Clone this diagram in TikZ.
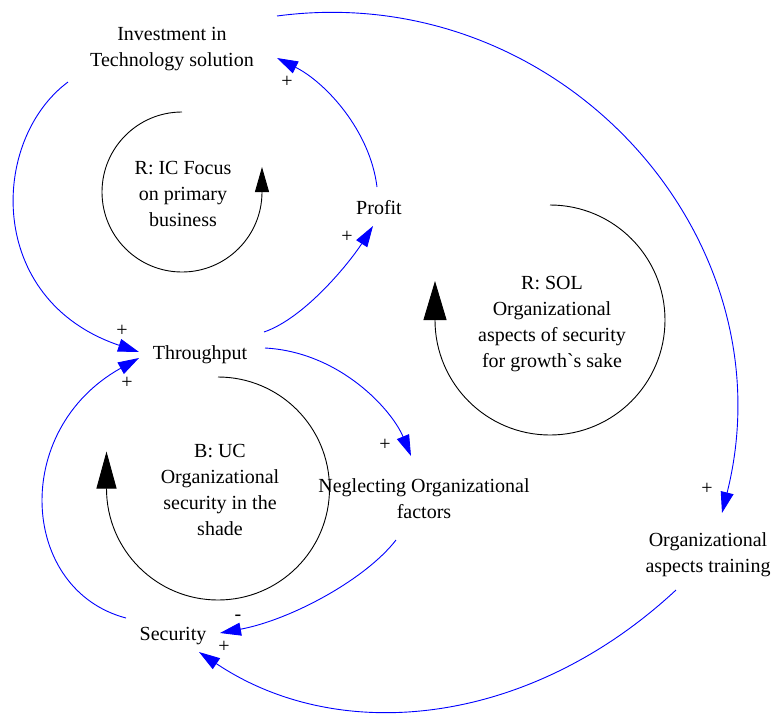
\documentclass[tikz,border=0pt]{standalone}
\usepackage{fontspec}
\setmainfont{Liberation Serif}[Ligatures={TeXOff,CommonOff}]
\usetikzlibrary{arrows.meta,calc}
% fixed line height/depth so multi-line labels sit predictably
\newcommand{\linestrut}{\rule[-5pt]{0pt}{19pt}}
\begin{document}
\begin{tikzpicture}[x=1pt,y=-1pt,
  every node/.style={font=\fontsize{20}{26}\selectfont, text=black, inner sep=0pt},
  var/.style={align=center, execute at begin node=\linestrut, execute at end node=\linestrut},
  sign/.style={},
  link/.style={blue, line width=0.9pt, -{Triangle[length=21pt,width=13pt]}},
  loopline/.style={black, line width=0.9pt},
]
\useasboundingbox (0,0) rectangle (774,713);

% variables
\node[var] (inv)    at (172,49)    {Investment in\\Technology solution};
\node[var] (profit) at (379,209.5) {Profit};
\node[var] (thr)    at (200,354.5) {Throughput};
\node[var] (neg)    at (424,501)   {Neglecting Organizational\\factors};
\node[var] (oat)    at (708,555)   {Organizational\\aspects training};
\node[var] (sec)    at (173,635.5) {Security};

% loop labels
\node[var] (ic)  at (183,196.5) {R: IC Focus\\on primary\\business};
\node[var] (uc)  at (220,492.8) {B: UC\\Organizational\\security in the\\shade};
\node[var] (sol) at (552,324.5) {R: SOL\\Organizational\\aspects of security\\for growth`s sake};

% loop direction arrows
\draw[loopline,-{Triangle[length=25pt,width=14pt]}]
  ($(ic)+(-1,-84.5)$) arc[start angle=-90,end angle=-360,radius=80] -- ++(0,-25);
\draw[loopline,-{Triangle[length=37pt,width=20pt]}]
  ($(uc)+(-2,-115.8)$) arc[start angle=-90,end angle=180,radius=111.5] -- ++(0,-37);
\draw[loopline,-{Triangle[length=39pt,width=23pt]}]
  ($(sol)+(-2,-119.5)$) arc[start angle=-90,end angle=180,radius=115] -- ++(0,-39);

% causal links
\draw[link] ($(profit)+(-2,-22.5)$) .. controls (370,130) and (325,82) .. ($(inv)+(105,9)$);
\draw[link] ($(thr)+(64,-22.5)$) .. controls (305,318) and (350,262) .. ($(profit)+(-6,16.5)$);
\draw[link] ($(inv)+(-104,33)$) .. controls (-10,140) and (-15,300) .. ($(thr)+(-61,-2.5)$);
\draw[link] ($(sec)+(-47,-17.5)$) .. controls (20,590) and (10,430) .. ($(thr)+(-61,3.5)$);
\draw[link] ($(thr)+(65,-6.5)$) .. controls (340,352) and (392,410) .. ($(neg)+(-13,-45)$);
\draw[link] ($(neg)+(-28,39)$) .. controls (365,580) and (290,620) .. ($(sec)+(47,-2.5)$);
\draw[link] ($(oat)+(-32,35)$) .. controls (530,726) and (340,746.5) .. ($(sec)+(26,16.5)$);
\draw[link] ($(inv)+(105,-33)$) .. controls (559.5,-21.7) and (791.6,236.4) .. ($(oat)+(14,-42)$);

% link polarities
\node[sign] (s1) at (287,82)  {+};
\node[sign] (s2) at (347,237) {+};
\node[sign] (s3) at (122,331) {+};
\node[sign] (s4) at (127,383) {+};
\node[sign] (s5) at (385,445) {+};
\node[sign] (s6) at (238,618) {-};
\node[sign] (s7) at (224,647) {+};
\node[sign] (s8) at (707,489) {+};
\end{tikzpicture}
\end{document}
